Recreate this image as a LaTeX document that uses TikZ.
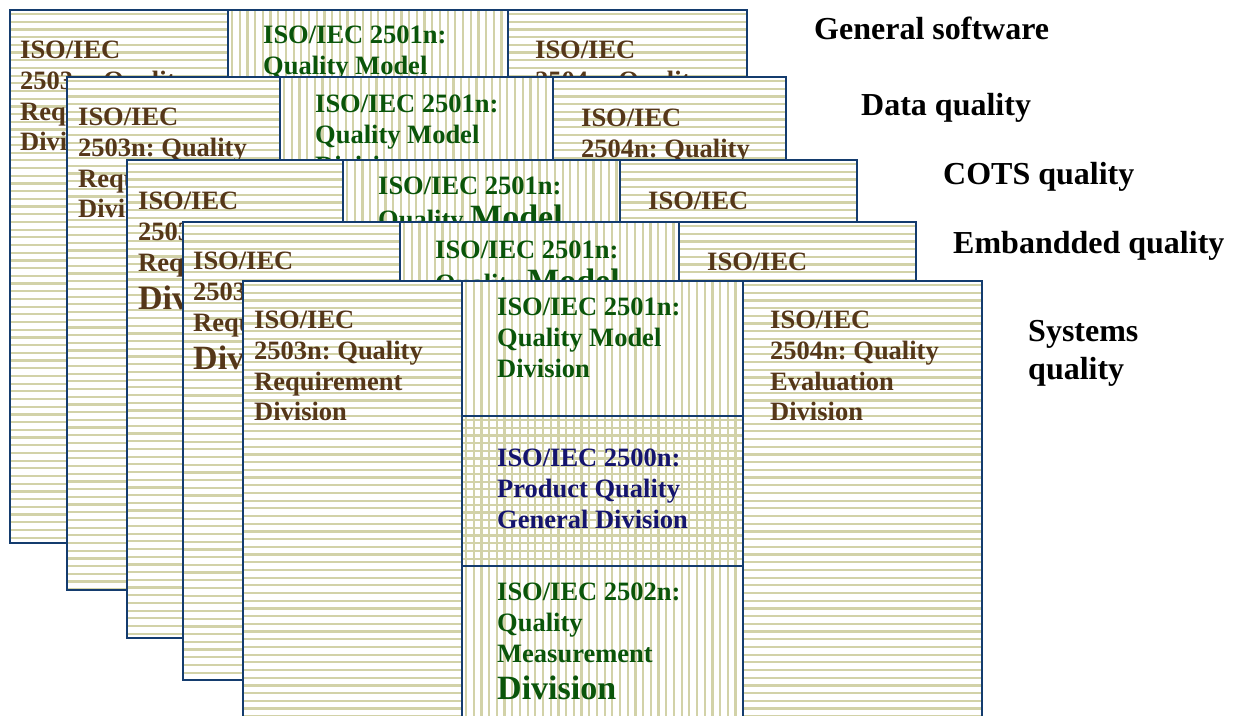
\documentclass[tikz,border=0pt]{standalone}
\usepackage{fontspec}
\setmainfont{Liberation Serif}
\frenchspacing
\definecolor{frame}{RGB}{20,60,110}
\definecolor{stripe}{RGB}{210,210,168}
\definecolor{isobrown}{RGB}{85,55,25}
\definecolor{isogreen}{RGB}{10,85,10}
\definecolor{isonavy}{RGB}{20,20,110}
\tikzset{
  stripeline/.style={draw=stripe, line width=2.2pt},
  colbox/.style={draw=frame, line width=2pt, preaction={fill=white}},
  hbox/.style={colbox, path picture={
      \foreach \k in {0,...,95}
        \draw[stripeline] ([yshift=-4pt-\k*7.7pt]path picture bounding box.north west) -- ++(600,0);}},
  vbox/.style={colbox, path picture={
      \foreach \k in {0,...,40}
        \draw[stripeline] ([xshift=4pt+\k*7.7pt]path picture bounding box.north west) -- ++(0,800);}},
  gbox/.style={colbox, path picture={
      \foreach \k in {0,...,40}
        \draw[stripeline] ([xshift=4pt+\k*7.7pt]path picture bounding box.north west) -- ++(0,800);
      \foreach \k in {0,...,40}
        \draw[stripeline] ([yshift=-4pt-\k*7.7pt]path picture bounding box.north west) -- ++(600,0);}},
  isotext/.style={anchor=north west, inner sep=0pt, align=left, font=\bfseries\fontsize{26.5}{30.7}\selectfont},
  reqtext/.style={isotext, text=isobrown},
  modtext/.style={isotext, text=isogreen},
  gentext/.style={isotext, text=isonavy},
  layerlabel/.style={anchor=base west, inner sep=0pt, align=left, font=\bfseries\fontsize{32}{38}\selectfont}
}
\newcommand{\bigword}[1]{{\fontsize{34}{30.7}\selectfont #1}}

\begin{document}
\begin{tikzpicture}[x=1pt, y=-1pt]
  \useasboundingbox (0,0) rectangle (1234,715);
  \clip (0,0) rectangle (1234,715);

  % general software
  \draw[hbox] (10,10) rectangle (228,543);
  \draw[vbox] (228,10) rectangle (508,543);
  \draw[hbox] (508,10) rectangle (747,543);
  \node[reqtext] (req1) at (20,41) {ISO/IEC\\2503n: Quality\\Requirement\\Division};
  \node[modtext] (mod1) at (263,26) {ISO/IEC 2501n:\\Quality Model\\Division};
  \node[reqtext] (eva1) at (535,41) {ISO/IEC\\2504n: Quality\\Evaluation\\Division};

  % data quality
  \draw[hbox] (67,77) rectangle (280,590);
  \draw[vbox] (280,77) rectangle (553,590);
  \draw[hbox] (553,77) rectangle (786,590);
  \node[reqtext] (req2) at (78,108) {ISO/IEC\\2503n: Quality\\Requirement\\Division};
  \node[modtext] (mod2) at (315,95) {ISO/IEC 2501n:\\Quality Model\\Division};
  \node[reqtext] (eva2) at (581,109) {ISO/IEC\\2504n: Quality\\Evaluation\\Division};

  % COTS quality
  \draw[hbox] (127,160) rectangle (343,638);
  \draw[vbox] (343,160) rectangle (620,638);
  \draw[hbox] (620,160) rectangle (857,638);
  \node[reqtext] (req3) at (138,192) {ISO/IEC\\2503n: Quality\\Requirement\\[8pt]\bigword{Division}};
  \node[modtext] (mod3) at (378,177) {ISO/IEC 2501n:\\[3pt]Quality \bigword{Model}\\Division};
  \node[reqtext] (eva3) at (648,192) {ISO/IEC\\2504n: Quality\\Evaluation\\Division};

  % embedded quality
  \draw[hbox] (183,222) rectangle (400,680);
  \draw[vbox] (400,222) rectangle (679,680);
  \draw[hbox] (679,222) rectangle (916,680);
  \node[reqtext] (req4) at (193,252) {ISO/IEC\\2503n: Quality\\Requirement\\[8pt]\bigword{Division}};
  \node[modtext] (mod4) at (435,241) {ISO/IEC 2501n:\\[3pt]Quality \bigword{Model}\\Division};
  \node[reqtext] (eva4) at (707,253) {ISO/IEC\\2504n: Quality\\Evaluation\\Division};

  % systems quality (front)
  \draw[hbox] (243,281) rectangle (462,740);
  \draw[vbox] (462,281) rectangle (743,416);
  \draw[gbox] (462,416) rectangle (743,566);
  \draw[vbox] (462,566) rectangle (743,740);
  \draw[hbox] (743,281) rectangle (982,740);
  \node[reqtext] (req5) at (254,311) {ISO/IEC\\2503n: Quality\\Requirement\\Division};
  \node[modtext] (mod5) at (497,298) {ISO/IEC 2501n:\\Quality Model\\Division};
  \node[gentext] (gen5) at (497,449) {ISO/IEC 2500n:\\Product Quality\\General Division};
  \node[modtext] (mea5) at (497,583) {ISO/IEC 2502n:\\Quality\\Measurement\\[7pt]\bigword{Division}};
  \node[reqtext] (eva5) at (770,311) {ISO/IEC\\2504n: Quality\\Evaluation\\Division};

  % layer names
  \node[layerlabel] (gsw) at (814,39) {General software};
  \node[layerlabel] (dq) at (861,115) {Data quality};
  \node[layerlabel] (cots) at (943,184) {COTS quality};
  \node[layerlabel] (emb) at (953,253) {Embandded quality};
  \node[layerlabel, anchor=north west] (sys) at (1028,320) {Systems\\quality};
\end{tikzpicture}
\end{document}
